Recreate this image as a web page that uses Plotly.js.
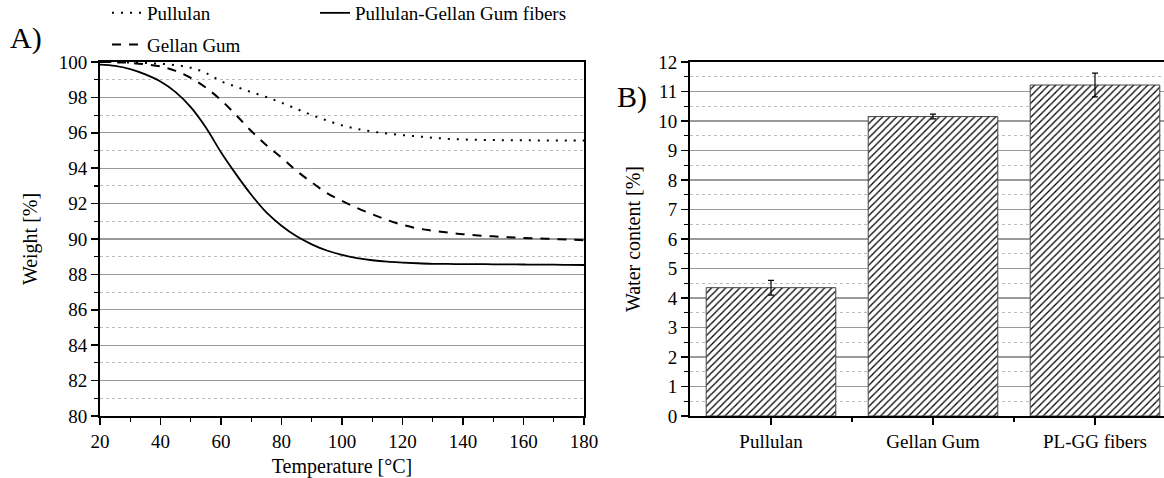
<!DOCTYPE html>
<html>
<head>
<meta charset="utf-8">
<script src="https://cdn.plot.ly/plotly-3.0.1.min.js"></script>
<style>
html,body{margin:0;padding:0;background:#fff;}
#chart{width:1164px;height:478px;}
</style>
</head>
<body>
<div id="chart"></div>
<script>
// ---- Data (A: TGA curves) ----
const temperature = [20,25,30,35,40,45,50,55,60,65,70,75,80,85,90,95,100,105,110,115,120,125,130,135,140,145,150,155,160,165,170,175,180];
const weightPullulan = [100,99.99,99.97,99.94,99.9,99.82,99.68,99.38,98.92,98.6,98.3,98.02,97.7,97.35,97.0,96.7,96.42,96.22,96.07,95.96,95.87,95.8,95.72,95.66,95.62,95.6,95.59,95.58,95.58,95.57,95.57,95.56,95.56];
const weightGellan = [100,99.99,99.95,99.87,99.75,99.5,99.1,98.55,97.85,97.0,96.1,95.3,94.6,93.85,93.2,92.6,92.15,91.75,91.4,91.07,90.8,90.6,90.47,90.36,90.27,90.2,90.15,90.1,90.06,90.03,90.0,89.97,89.93];
const weightFibers = [99.85,99.78,99.6,99.3,98.9,98.3,97.45,96.3,94.9,93.65,92.5,91.5,90.75,90.15,89.7,89.35,89.1,88.92,88.8,88.72,88.67,88.63,88.6,88.59,88.58,88.58,88.57,88.57,88.56,88.55,88.55,88.54,88.53];
const seriesNames = ["Pullulan", "Gellan Gum", "Pullulan-Gellan Gum fibers"];

// ---- Data (B: water content) ----
const samples = ["Pullulan", "Gellan Gum", "PL-GG fibers"];
const waterContent = [4.35, 10.15, 11.22];
const waterError = [0.25, 0.08, 0.4];

const FONT = '"Liberation Serif", "Times New Roman", Times, serif';
const FS = 19;
const W = 1164, H = 478;
const px = v => v / W, py = v => 1 - v / H;

const traces = [
  {x: temperature, y: weightPullulan, name: seriesNames[0], type: 'scatter', mode: 'lines',
   line: {color: '#000', width: 2, dash: '2px,7px', shape: 'spline'}, xaxis: 'x', yaxis: 'y',
   legend: 'legend', legendgroup: 'g1', legendrank: 1},
  {x: temperature, y: weightGellan, name: seriesNames[1], type: 'scatter', mode: 'lines',
   line: {color: '#000', width: 2, dash: '9px,8px', shape: 'spline'}, xaxis: 'x', yaxis: 'y',
   legend: 'legend', legendgroup: 'g2', legendrank: 2},
  {x: temperature, y: weightFibers, name: seriesNames[2], type: 'scatter', mode: 'lines',
   line: {color: '#000', width: 1.8, shape: 'spline'}, xaxis: 'x', yaxis: 'y', legend: 'legend2'},
  {x: samples.map((s, i) => i), y: waterContent, type: 'bar', showlegend: false,
   width: 0.8, xaxis: 'x2', yaxis: 'y2',
   marker: {color: '#fff', line: {color: '#444', width: 1},
            pattern: {shape: '/', fgcolor: '#000', bgcolor: '#fff', size: 5, solidity: 0.25}},
   error_y: {type: 'data', array: waterError, visible: true, color: '#000', thickness: 1.2, width: 3}}
];

const tickFont = {family: FONT, size: FS, color: '#000'};
const legFont = {family: FONT, size: FS, color: '#000'};
const titleFont = {family: FONT, size: 20, color: '#000'};

const layout = {
  width: W, height: H,
  margin: {l: 0, r: 0, t: 0, b: 0, autoexpand: false},
  paper_bgcolor: '#fff', plot_bgcolor: '#fff',
  font: {family: FONT, size: FS, color: '#000'},
  showlegend: true,
  legend: {orientation: 'v', x: px(107), y: py(-6), xanchor: 'left', yanchor: 'top',
           traceorder: 'grouped', tracegroupgap: 4, font: legFont, bgcolor: 'rgba(0,0,0,0)'},
  legend2: {orientation: 'v', x: px(315), y: py(-6), xanchor: 'left', yanchor: 'top',
           font: legFont, bgcolor: 'rgba(0,0,0,0)'},
  xaxis: {
    domain: [px(100), px(584)], range: [20, 180], anchor: 'y',
    tickmode: 'linear', tick0: 20, dtick: 20, ticks: 'outside', ticklen: 7, tickwidth: 1.5, tickcolor: '#000',
    minor: {dtick: 10, ticks: 'outside', ticklen: 4, tickwidth: 1.2, tickcolor: '#000', showgrid: false},
    showgrid: false, zeroline: false, showline: true, linecolor: '#000', linewidth: 2, mirror: true,
    tickfont: tickFont,
    title: {text: 'Temperature [°C]', font: titleFont, standoff: 12}
  },
  yaxis: {
    domain: [py(416), py(62)], range: [80, 100], anchor: 'x',
    tickmode: 'linear', tick0: 80, dtick: 2, ticks: 'outside', ticklen: 7, tickwidth: 1.5, tickcolor: '#000',
    minor: {dtick: 1, ticks: 'outside', ticklen: 4, tickwidth: 1.2, tickcolor: '#000',
            showgrid: true, gridcolor: '#bdbdbd', griddash: 'dot', gridwidth: 1},
    showgrid: true, gridcolor: '#9a9a9a', gridwidth: 1.2, zeroline: false,
    showline: true, linecolor: '#000', linewidth: 2, mirror: true,
    tickfont: tickFont,
    title: {text: 'Weight [%]', font: titleFont, standoff: 16}
  },
  xaxis2: {
    domain: [px(690), 1], range: [-0.5, 2.426], anchor: 'y2',
    tickmode: 'array', tickvals: samples.map((s, i) => i), ticktext: samples,
    ticks: 'outside', ticklen: 7, tickwidth: 1.5, tickcolor: '#000',
    minor: {tickmode: 'array', tickvals: [0.5, 1.5], ticks: 'outside', ticklen: 4, tickwidth: 1.2, tickcolor: '#000', showgrid: false},
    showgrid: false, zeroline: false, showline: true, linecolor: '#000', linewidth: 2, mirror: true,
    tickfont: tickFont
  },
  yaxis2: {
    domain: [py(416), py(62)], range: [0, 12], anchor: 'x2',
    tickmode: 'linear', tick0: 0, dtick: 1, ticks: 'outside', ticklen: 7, tickwidth: 1.5, tickcolor: '#000',
    minor: {dtick: 0.5, ticks: 'outside', ticklen: 4, tickwidth: 1.2, tickcolor: '#000',
            showgrid: true, gridcolor: '#bdbdbd', griddash: 'dot', gridwidth: 1},
    showgrid: true, gridcolor: '#9a9a9a', gridwidth: 1.2, zeroline: false,
    showline: true, linecolor: '#000', linewidth: 2, mirror: false,
    tickfont: tickFont,
    title: {text: 'Water content [%]', font: titleFont, standoff: 12}
  },
  annotations: [
    {text: 'A)', x: px(8), y: py(38), xref: 'paper', yref: 'paper', xanchor: 'left', yanchor: 'middle',
     showarrow: false, font: {family: FONT, size: 30, color: '#000'}},
    {text: 'B)', x: px(615), y: py(97), xref: 'paper', yref: 'paper', xanchor: 'left', yanchor: 'middle',
     showarrow: false, font: {family: FONT, size: 30, color: '#000'}}
  ]
};

Plotly.newPlot('chart', traces, layout, {displayModeBar: false, staticPlot: true});
</script>
</body>
</html>
